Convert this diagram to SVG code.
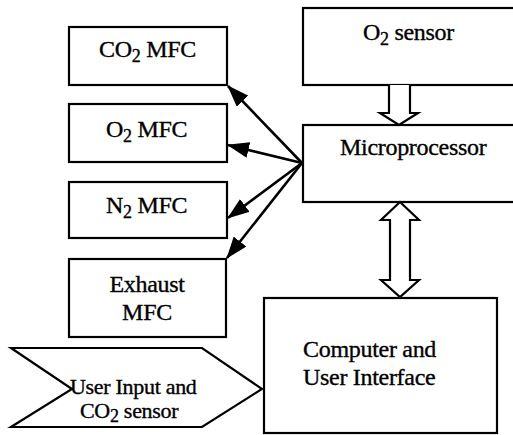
<svg xmlns="http://www.w3.org/2000/svg" width="513" height="435" viewBox="0 0 513 435">
<style>
.box{fill:#fff;stroke:#000;stroke-width:2.2}
.t{font-family:"Liberation Serif","Times New Roman",serif;font-size:24px;fill:#000;stroke:#000;stroke-width:0.35;letter-spacing:-0.3px}
.u{font-size:22px}
.s{font-size:18px}
.ln{stroke:#000;stroke-width:2.6;fill:none}
.hollow{fill:#fff;stroke:#000;stroke-width:2.2;stroke-linejoin:miter}
</style>
<defs>
<marker id="a" markerWidth="22" markerHeight="16" refX="21" refY="8" orient="auto" markerUnits="userSpaceOnUse" viewBox="0 0 22 16">
<path d="M0,0 L22,8 L0,16 Z" fill="#000"/>
</marker>
</defs>
<g id="co2mfc"><rect class="box" x="69" y="27" width="158" height="58"/><text class="t" x="99" y="57">CO<tspan class="s" dy="5">2</tspan><tspan dy="-5"> MFC</tspan></text></g>
<g id="o2mfc"><rect class="box" x="69" y="104" width="158" height="58"/><text class="t" x="106" y="137">O<tspan class="s" dy="5">2</tspan><tspan dy="-5"> MFC</tspan></text></g>
<g id="n2mfc"><rect class="box" x="69" y="182" width="158" height="56"/><text class="t" x="106" y="213">N<tspan class="s" dy="5">2</tspan><tspan dy="-5"> MFC</tspan></text></g>
<g id="exhaust"><rect class="box" x="69" y="259" width="157" height="78"/><text class="t" x="147" y="292" text-anchor="middle">Exhaust</text><text class="t" x="147" y="320" text-anchor="middle">MFC</text></g>
<g id="o2sensor"><rect class="box" x="303" y="8" width="220" height="77"/><text class="t" x="363" y="40">O<tspan class="s" dy="5">2</tspan><tspan dy="-5"> sensor</tspan></text></g>
<g id="microprocessor"><rect class="box" x="303" y="125" width="220" height="77"/><text class="t" x="340" y="155">Microprocessor</text></g>
<g id="computer"><rect class="box" x="264" y="298" width="233" height="135"/><text class="t" x="303" y="357">Computer and</text><text class="t" x="303" y="385">User Interface</text></g>
<g id="userinput"><path class="box" d="M11,348 L202,348 L262,389 L202,427 L11,427 L72,389 Z"/><text class="t u" x="70" y="394">User Input and</text><text class="t u" x="80" y="418">CO<tspan class="s" font-size="16" dy="4">2</tspan><tspan dy="-4">  sensor</tspan></text></g>
<g id="connectors">
<line class="ln" x1="302" y1="163" x2="228" y2="86" marker-end="url(#a)"/>
<line class="ln" x1="302" y1="163" x2="228" y2="145" marker-end="url(#a)"/>
<line class="ln" x1="302" y1="163" x2="228" y2="218" marker-end="url(#a)"/>
<line class="ln" x1="302" y1="163" x2="227" y2="258" marker-end="url(#a)"/>
<path class="hollow" d="M389,85 L389,113 L380,113 L399,125 L418,113 L410,113 L410,85"/>
<path class="hollow" d="M400,202 L419,220 L410,220 L410,280 L419,280 L400,297 L381,280 L390,280 L390,220 L381,220 Z"/>
</g>
</svg>
